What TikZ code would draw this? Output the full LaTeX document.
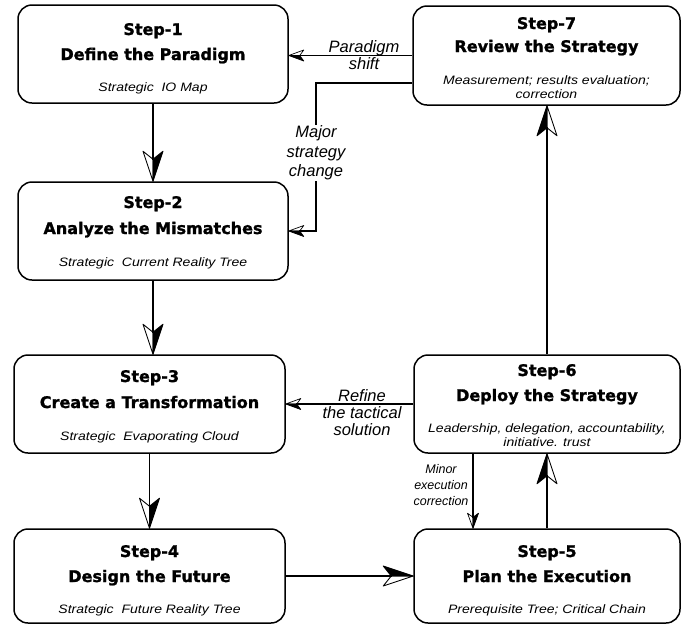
\documentclass[tikz,border=0pt]{standalone}
\usepackage{fontspec}
\setmainfont{Liberation Sans}
\newfontfamily\tfont{DejaVu Sans}[FakeBold=1.3]
\newfontfamily\subfont{Liberation Sans}[FakeStretch=1.15]

\pgfdeclarearrow{
  name=HalfBig,
  setup code={
    \pgfarrowssettipend{0pt}
    \pgfarrowssetlineend{-21pt}
    \pgfarrowssetbackend{-30pt}
    \pgfarrowsupperhullpoint{-30pt}{10pt}
    \pgfarrowsupperhullpoint{0pt}{0pt}
  },
  drawing code={
    \pgfsetlinewidth{0.9pt}
    \pgfsetroundjoin
    \pgfpathmoveto{\pgfqpoint{0pt}{0pt}}
    \pgfpathlineto{\pgfqpoint{-30pt}{10pt}}
    \pgfpathlineto{\pgfqpoint{-22pt}{0pt}}
    \pgfpathclose
    \pgfusepathqfillstroke
    \pgfpathmoveto{\pgfqpoint{0pt}{0pt}}
    \pgfpathlineto{\pgfqpoint{-30pt}{-10pt}}
    \pgfpathlineto{\pgfqpoint{-22pt}{0pt}}
    \pgfpathclose
    \pgfusepathqstroke
  }
}
\pgfdeclarearrow{
  name=HalfSmall,
  setup code={
    \pgfarrowssettipend{0pt}
    \pgfarrowssetlineend{-10.5pt}
    \pgfarrowssetbackend{-15pt}
    \pgfarrowsupperhullpoint{-15pt}{5.5pt}
    \pgfarrowsupperhullpoint{0pt}{0pt}
  },
  drawing code={
    \pgfsetlinewidth{0.7pt}
    \pgfsetroundjoin
    \pgfpathmoveto{\pgfqpoint{0pt}{0pt}}
    \pgfpathlineto{\pgfqpoint{-15pt}{5.5pt}}
    \pgfpathlineto{\pgfqpoint{-11pt}{0pt}}
    \pgfpathclose
    \pgfusepathqfillstroke
    \pgfpathmoveto{\pgfqpoint{0pt}{0pt}}
    \pgfpathlineto{\pgfqpoint{-15pt}{-5.5pt}}
    \pgfpathlineto{\pgfqpoint{-11pt}{0pt}}
    \pgfpathclose
    \pgfusepathqstroke
  }
}

\tikzset{
  box/.style={draw, line width=1.5pt, rounded corners=14pt, inner sep=0pt},
  mainarrow/.style={line width=1.8pt, arrows={-HalfBig}},
  fbarrow/.style={line width=1.1pt, arrows={-HalfSmall}},
  ttl/.style={font=\tfont\bfseries\fontsize{16}{19}\selectfont, anchor=base, inner sep=0pt},
  sub/.style={font=\subfont\itshape\fontsize{12.2}{14}\selectfont, anchor=base, inner sep=0pt},
  lbl/.style={font=\itshape\fontsize{16.5}{19.5}\selectfont, align=center, inner sep=0pt},
}

\begin{document}
\begin{tikzpicture}[x=1pt,y=-1pt]
\useasboundingbox (0,0) rectangle (682,625);

% boxes
\node[box, minimum width=270pt, minimum height=98pt] (s1) at (153,54) {};
\node[box, minimum width=270pt, minimum height=98pt] (s2) at (153,231) {};
\node[box, minimum width=271pt, minimum height=98pt] (s3) at (149.5,404) {};
\node[box, minimum width=271pt, minimum height=94pt] (s4) at (149.5,576) {};
\node[box, minimum width=266pt, minimum height=94pt] (s5) at (547,576) {};
\node[box, minimum width=266pt, minimum height=98pt] (s6) at (547,404) {};
\node[box, minimum width=267pt, minimum height=99pt] (s7) at (546.5,55.5) {};

% texts
\node[ttl] (s1a) at (153,35) {Step-1};
\node[ttl] (s1b) at (153,60) {Define the Paradigm};
\node[sub] (s1c) at (153,91) {Strategic~ IO Map};

\node[ttl] (s2a) at (153,208) {Step-2};
\node[ttl] (s2b) at (153,234) {Analyze the Mismatches};
\node[sub] (s2c) at (153,266) {Strategic~ Current Reality Tree};

\node[ttl] (s3a) at (149.5,382) {Step-3};
\node[ttl] (s3b) at (149.5,408) {Create a Transformation};
\node[sub] (s3c) at (149.5,440) {Strategic~ Evaporating Cloud};

\node[ttl] (s4a) at (149.5,557) {Step-4};
\node[ttl] (s4b) at (149.5,582) {Design the Future};
\node[sub] (s4c) at (149.5,613) {Strategic~ Future Reality Tree};

\node[ttl] (s5a) at (547,557) {Step-5};
\node[ttl] (s5b) at (547,582) {Plan the Execution};
\node[sub] (s5c) at (547,613) {Prerequisite Tree; Critical Chain};

\node[ttl] (s6a) at (547,376) {Step-6};
\node[ttl] (s6b) at (547,401) {Deploy the Strategy};
\node[sub] (s6c) at (547,432) {Leadership, delegation, accountability,};
\node[sub] (s6d) at (547,446) {initiative. trust};

\node[ttl] (s7a) at (546.5,29) {Step-7};
\node[ttl] (s7b) at (546.5,52) {Review the Strategy};
\node[sub] (s7c) at (546.5,84) {Measurement; results evaluation;};
\node[sub] (s7d) at (546.5,98) {correction};

% main flow
\draw[mainarrow] (s1.south) -- (s2.north);
\draw[mainarrow] (s2.south) -- (s2.south |- s3.north);
\draw[mainarrow] (s3.south) -- (s4.north);
\draw[mainarrow] (s4.east) -- (s4.east -| s5.west);
\draw[mainarrow] (s5.north) -- (s6.south);
\draw[mainarrow] (s6.north) -- (s6.north |- s7.south);

% feedback
\draw[fbarrow] (s7.west) -- (s7.west -| s1.east);
\node[lbl, font=\itshape\fontsize{16.5}{15}\selectfont] (lp) at (364,55) {Paradigm\\shift};

\coordinate (mj) at ([yshift=-27.5pt]s7.west);
\coordinate (mk) at (316,83);
\draw[fbarrow] (mj) -- (mk) |- (s2.east);
\node[lbl, fill=white, inner sep=1pt] (lm) at (316,153) {Major\\strategy\\change};

\draw[fbarrow] (s6.west) -- (s6.west -| s3.east);
\node[lbl, font=\itshape\fontsize{16.5}{17}\selectfont] (lr) at (362,413) {Refine\\the tactical\\solution};

\draw[fbarrow] ([xshift=-74pt]s6.south) -- ([xshift=-74pt]s5.north);
\node[lbl, font=\itshape\fontsize{12.5}{16}\selectfont] (ln) at (441,485) {Minor\\execution\\correction};
\end{tikzpicture}
\end{document}
